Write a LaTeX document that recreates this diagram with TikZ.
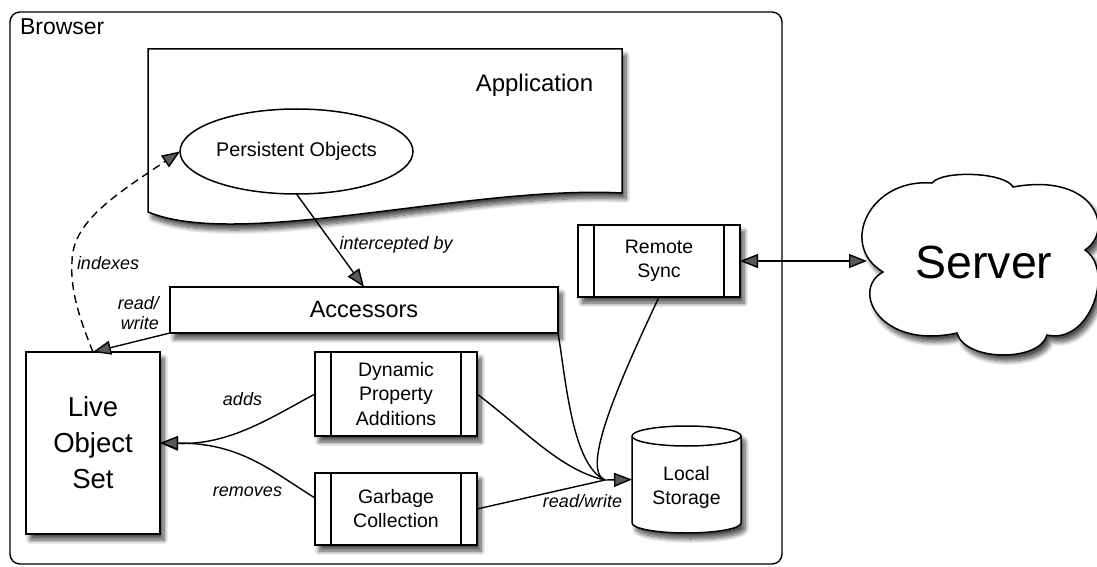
\documentclass[tikz,border=0pt]{standalone}
\usepackage{fontspec}
\setmainfont{Liberation Sans}
\usetikzlibrary{arrows.meta,shadows.blur,shapes.geometric}
\begin{document}
\begin{tikzpicture}[x=1pt,y=-1pt,
  every node/.style={inner sep=0pt, outer sep=0pt},
  shd/.style={blur shadow={shadow xshift=4pt, shadow yshift=-6pt, shadow blur radius=4.5pt, shadow blur steps=10, shadow opacity=70}},
  box/.style={draw, fill=white, line width=1.5pt, shd},
  sub/.style={box, path picture={
     \draw[line width=1.5pt] ([xshift=16pt]path picture bounding box.north west) -- ([xshift=16pt]path picture bounding box.south west);
     \draw[line width=1.5pt] ([xshift=-16pt]path picture bounding box.north east) -- ([xshift=-16pt]path picture bounding box.south east);}},
  arr/.style={line width=1.4pt, -{Triangle[length=18pt,width=14pt]}},
  conn/.style={line width=1.4pt},
  lbl/.style={font=\fontsize{18}{20}\selectfont\itshape},
  f19/.style={font=\fontsize{19.5}{24}\selectfont, align=center},
]
\useasboundingbox (0,0) rectangle (1097,567);

% Browser container
\node[draw, line width=1.4pt, rounded corners=10pt, minimum width=772pt, minimum height=552pt, anchor=north west] (browser) at (10,12) {};
\node[anchor=base west, font=\fontsize{23}{23}\selectfont] (browserlbl) at (20,35) {Browser};

% Application document shape
\draw[line width=1.5pt, fill=white, shd] (148,49) -- (622,49) -- (622,193) .. controls (470,185) and (240,250) .. (148,212) -- cycle;
\node[anchor=base, font=\fontsize{24}{24}\selectfont] (app) at (534.5,92) {Application};
\node[draw, ellipse, line width=1.5pt, fill=white, minimum width=233pt, minimum height=85pt, font=\fontsize{19.8}{24}\selectfont] (po) at (296.5,151.5) {Persistent Objects};

% Boxes
\node[box, minimum width=388pt, minimum height=46pt, font=\fontsize{23.5}{24}\selectfont] (acc) at (364,310) {Accessors};
\node[sub, minimum width=162pt, minimum height=72pt, f19] (rs) at (659,261) {Remote\\Sync};
\node[box, minimum width=134pt, minimum height=182pt, font=\fontsize{27.5}{36}\selectfont, align=center] (live) at (93,443) {Live\\Object\\Set};
\node[sub, minimum width=162pt, minimum height=84pt, font=\fontsize{19.5}{24.5}\selectfont, align=center] (dpa) at (396,394) {Dynamic\\Property\\Additions};
\node[sub, minimum width=162pt, minimum height=72pt, f19] (gc) at (396,509) {Garbage\\Collection};

% Local storage cylinder
\node[minimum width=109pt, minimum height=107pt] (ls) at (686.5,479.5) {};
\draw[line width=1.5pt, fill=white, shd] ([yshift=-10pt]ls.north west) -- ([yshift=10pt]ls.south west) arc[start angle=180, end angle=360, x radius=54.5pt, y radius=10pt] -- ([yshift=-10pt]ls.north east) arc[start angle=0, end angle=180, x radius=54.5pt, y radius=10pt] -- cycle;
\draw[line width=1.5pt] ([yshift=-10pt]ls.north west) arc[start angle=180, end angle=360, x radius=54.5pt, y radius=10pt];
\node[f19] (lstext) at (686.5,487) {Local\\Storage};

% Server cloud
\draw[line width=1.5pt, fill=white, shd] (932,183) .. controls (870,178) and (838,245) .. (883,272) .. controls (850,290) and (880,350) .. (957,333) .. controls (965,362) and (1040,362) .. (1047,335) .. controls (1090,345) and (1115,270) .. (1085,250) .. controls (1115,230) and (1095,172) .. (1013,187) .. controls (1005,172) and (942,170) .. (932,183) -- cycle;
\node[font=\fontsize{46.5}{48}\selectfont] (server) at (984,262) {Server};
\coordinate (srvw) at (867,261);

% Connectors
\draw[arr] (po.south) -- node[lbl, pos=0.55, right=6pt] (l1) {intercepted by} (acc.north);
\draw[arr, dash pattern=on 8pt off 5pt] (live.north) .. controls (80,320) and (70,290) .. (72,262) .. controls (72,222) and (115,195) .. (po.west);
\node[lbl, anchor=west] (l2) at (77,263) {indexes};
\draw[arr] (acc.south west) -- (live.north);
\node[lbl, align=right, anchor=east] (l3) at (159,313.5) {read/\\write};
\draw[arr] (dpa.west) .. controls (270,418) and (230,445) .. (live.east);
\draw[arr] ([yshift=11pt]gc.west) .. controls (270,470) and (240,443) .. (live.east);
\node[lbl] (l4) at (242.5,399) {adds};
\node[lbl] (l5) at (247.5,492) {removes};

\coordinate (m) at (605,480);
\draw[conn] (acc.south east) .. controls (566,380) and (572,465) .. (m);
\draw[conn] (rs.south) .. controls (620,380) and (580,470) .. (m);
\draw[conn] (dpa.east) .. controls (525,430) and (560,470) .. (m);
\draw[arr] (gc.east) -- (m) -- (ls.west);
\node[lbl] (l6) at (582.5,501.5) {read/write};

\draw[conn, {Triangle[length=18pt,width=14pt]}-{Triangle[length=18pt,width=14pt]}] (rs.east) -- (srvw);
\end{tikzpicture}
\end{document}
